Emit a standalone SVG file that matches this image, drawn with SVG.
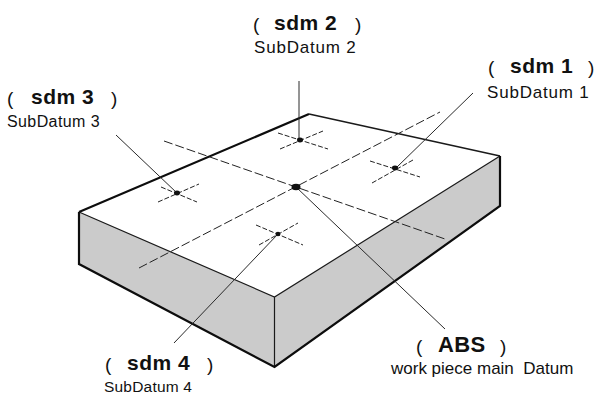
<svg xmlns="http://www.w3.org/2000/svg" width="598" height="394" viewBox="0 0 598 394">
<style>
.e{stroke:#1a1a1a;fill:none;stroke-width:1.2}
.t{stroke:#0d0d0d;fill:none;stroke-width:2.2}
.l{stroke:#2a2a2a;fill:none;stroke-width:1}
.d{stroke:#222;fill:none;stroke-width:1;stroke-dasharray:9 3}
.s{stroke:#222;fill:none;stroke-width:1;stroke-dasharray:5 2}
.dot{fill:#111}
text{font-family:"Liberation Sans",Arial,sans-serif;fill:#111;white-space:pre}
.b{font-size:21px;font-weight:bold;letter-spacing:.5px}
.p{font-size:19px}
.n{font-size:17px;letter-spacing:.8px}
</style>
<rect width="598" height="394" fill="#fff"/>
<g id="block">
<polygon points="79,212 274.5,297 274.5,367 79,264" fill="#cbcbcb"/>
<polygon points="274.5,297 500,156 500,206 274.5,367" fill="#cbcbcb"/>
<path class="e" d="M79,212L274.5,297L500,156M274.5,297V367"/>
<path class="e" d="M309,114L500,156" style="stroke-width:1.5"/>
<path class="t" d="M79,212L309,114M79,212V264L274.5,367L500,206V156"/>
</g>
<g id="connectors">
<path class="d" d="M164,141L445,239M139,268L440,112"/>
<path class="s" d="M278,133L328,149M280,149L323,131"/>
<path class="s" d="M370,161L420,177M372,183L413,160"/>
<path class="s" d="M161,187L197,202M158,202L199,184"/>
<path class="s" d="M256,225L303,245M259,245L298,223"/>
<path class="l" d="M299,81V140M473,93L396,168M116,135L177,193M278,234L174,343M296,187L445,329"/>
</g>
<g id="abs"><ellipse class="dot" cx="296" cy="187" rx="4.5" ry="3.2"/><text class="p" x="416" y="353">(</text><text class="b" x="438" y="352" style="font-size:22px;letter-spacing:.3px">ABS</text><text class="p" x="500" y="353">)</text><text class="n" x="391" y="374" style="letter-spacing:0">work piece main  Datum</text></g>
<g id="sdm1"><ellipse class="dot" cx="395" cy="168" rx="3" ry="2.4"/><text class="p" x="488" y="74">(</text><text class="b" x="510" y="73">sdm 1</text><text class="p" x="588" y="74">)</text><text class="n" x="487" y="98">SubDatum 1</text></g>
<g id="sdm2"><ellipse class="dot" cx="300" cy="140" rx="3" ry="2.4"/><text class="p" x="253" y="31">(</text><text class="b" x="274" y="30">sdm 2</text><text class="p" x="355" y="31">)</text><text class="n" x="254" y="53">SubDatum 2</text></g>
<g id="sdm3"><ellipse class="dot" cx="177" cy="193" rx="3" ry="2.4"/><text class="p" x="7" y="105">(</text><text class="b" x="31" y="104">sdm 3</text><text class="p" x="111" y="105">)</text><text class="n" x="7" y="127" style="font-size:16px;letter-spacing:.4px">SubDatum 3</text></g>
<g id="sdm4"><ellipse class="dot" cx="278" cy="234" rx="2.5" ry="2.2"/><text class="p" x="105" y="371">(</text><text class="b" x="127" y="370">sdm 4</text><text class="p" x="207" y="371">)</text><text class="n" x="104" y="392" style="font-size:15.5px;letter-spacing:.2px">SubDatum 4</text></g>
</svg>
